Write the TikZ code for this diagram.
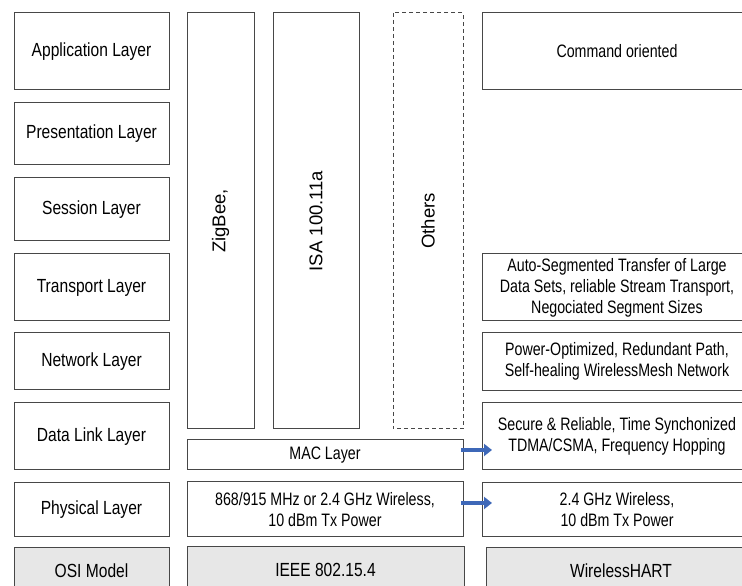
\documentclass[tikz,border=0pt]{standalone}
\usepackage{fontspec}
\setmainfont{Liberation Sans}
\newfontfamily\narrowfont[FakeStretch=0.82]{Liberation Sans}
\newfontfamily\slimfont[FakeStretch=0.79]{Liberation Sans}
\usepackage{tikz}
\usepackage{xcolor}
\usetikzlibrary{positioning}
\usetikzlibrary{arrows.meta}
\definecolor{hopBlue}{RGB}{62,104,184}
\definecolor{modelGrey}{RGB}{231,231,231}
\tikzset{
   osiBox/.style={draw=black!72, line width=1pt, minimum width=155pt, inner sep=1pt, outer sep=0pt, align=center, font=\narrowfont\fontsize{19}{21}\selectfont},
   detailBox/.style={osiBox, font=\slimfont\fontsize{18}{21}\selectfont},
   hartBox/.style={detailBox, minimum width=270pt},
   stackBox/.style={draw=black!72, line width=1pt, inner sep=1pt, outer sep=0pt, align=center, font=\fontsize{18.5}{21}\selectfont},
   otherBox/.style={stackBox, dash pattern=on 4pt off 3pt},
   modelFill/.style={fill=modelGrey},
   hopArrow/.style={draw=hopBlue, line width=4.5pt, -{Triangle[length=8pt, width=12pt]}},
}

\begin{document}
\begin{tikzpicture}[x=1pt,y=1pt,node distance=13pt and 313pt]
  					%
  					\useasboundingbox (0,0) rectangle (742,586);
  					\clip (0,0) rectangle (742,586);
  					%
  					% OSI column
  					\node[osiBox, minimum height=77pt] (application) at (91.5,534.5) {Application Layer};
  					\node[osiBox, minimum height=62pt, below=of application] (presentation) {Presentation Layer};
  					\node[osiBox, minimum height=63pt, below=of presentation] (session) {Session Layer};
  					\node[osiBox, minimum height=67pt, below=of session] (transport) {Transport Layer};
  					\node[osiBox, minimum height=57pt, below=12pt of transport] (network) {Network Layer};
  					\node[osiBox, minimum height=67pt, below=of network] (dataLink) {Data Link Layer};
  					\node[osiBox, minimum height=54pt, below=of dataLink] (physical) {Physical Layer};
  					\node[osiBox, modelFill, minimum height=45pt, below=11pt of physical] (osiModel) {OSI Model};
  					%
  					% IEEE 802.15.4 column
  					\node[stackBox, rotate=90, minimum width=416pt, minimum height=67pt] (zigbee) at (220.5,365) {ZigBee,};
  					\node[stackBox, rotate=90, minimum width=416pt, minimum height=86pt] (isa) at (316,365) {ISA 100.11a};
  					\node[otherBox, rotate=90, minimum width=416pt, minimum height=70pt] (others) at (428,365) {Others};
  					\node[detailBox, minimum width=276pt, minimum height=30pt] (mac) at (325,131) {MAC Layer};
  					\node[detailBox, minimum width=276pt, minimum height=55pt] (ieeePhy) at (325,76.5) {868/915 MHz or 2.4 GHz Wireless,\\10 dBm Tx Power};
  					\node[osiBox, modelFill, minimum width=277pt, minimum height=45pt] (ieee) at (325.5,16.5) {IEEE 802.15.4};
  					%
  					% WirelessHART column
  					\node[hartBox, minimum height=77pt, right=of application] (commandHart) {Command oriented};
  					\node[hartBox, minimum height=67pt, right=of transport] (transportHart) {Auto-Segmented Transfer of Large\\Data Sets, reliable Stream Transport,\\Negociated Segment Sizes};
  					\node[hartBox, minimum height=58pt, right=of network] (networkHart) {Power-Optimized, Redundant Path,\\Self-healing WirelessMesh Network};
  					\node[hartBox, minimum height=67pt, right=of dataLink] (dataLinkHart) {Secure \& Reliable, Time Synchonized\\TDMA/CSMA, Frequency Hopping};
  					\node[hartBox, minimum height=54pt, right=of physical] (physicalHart) {2.4 GHz Wireless,\\10 dBm Tx Power};
  					\node[osiBox, modelFill, minimum width=270pt, minimum height=45pt, right=317pt of osiModel] (wirelessHart) {WirelessHART};
  					%
  					% mapping arrows
  					\draw[hopArrow] ([xshift=-2pt,yshift=5pt]mac.east) -- ([xshift=10pt,yshift=5pt]mac.east -| dataLinkHart.west);
  					\draw[hopArrow] ([xshift=-2pt,yshift=6.5pt]ieeePhy.east) -- ([xshift=10pt,yshift=6.5pt]ieeePhy.east -| physicalHart.west);
  				\end{tikzpicture}
\end{document}
